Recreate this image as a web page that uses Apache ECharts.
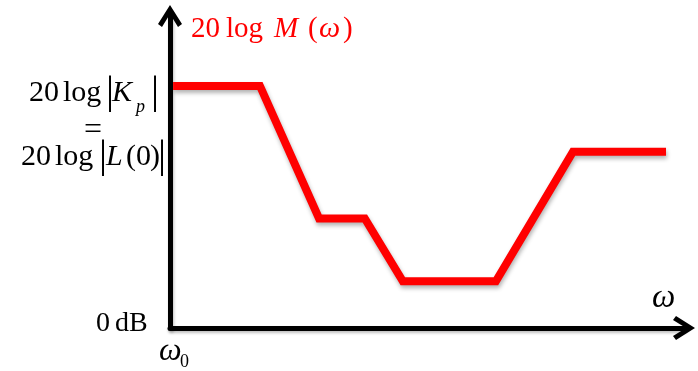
<!DOCTYPE html>
<html>
<head>
<meta charset="utf-8">
<script src="https://cdn.jsdelivr.net/npm/echarts@6/dist/echarts.min.js"></script>
<style>
  html, body { margin: 0; padding: 0; background: #fff; }
  #chart { width: 698px; height: 371px; }
</style>
</head>
<body>
<div id="chart"></div>
<script>
// Asymptotic Bode magnitude: corner frequencies (relative log-frequency units)
const omega = [0.6, 17.5, 29.0, 37.9, 45.3, 63.4, 78.4, 96.5];
// Asymptote levels (relative dB units, 0 dB at the frequency axis)
const gainDb = [77.6, 77.6, 35.1, 35.1, 15.0, 15.0, 56.5, 56.5];

const SERIF = '"Liberation Serif", "Times New Roman", serif';
const RED = '#ff0000';
const INK = '#000000';

// open chevron arrow head, tip at the top
const arrowHead = 'path://M12,0 L24,19 L20,22 L12,9 L4,22 L0,19 Z';

const axisShadow = {
  shadowColor: 'rgba(0,0,0,0.25)', shadowBlur: 3, shadowOffsetX: 1, shadowOffsetY: 2
};

// One run of typeset text, placed by its left edge and alphabetic baseline.
function glyphs(text, x, baseline, size, opts) {
  opts = opts || {};
  return {
    type: 'text',
    x: x,
    y: baseline - 0.34 * size,
    z: 10,
    style: {
      text: text,
      font: (opts.italic ? 'italic ' : '') + size + 'px ' + SERIF,
      fill: opts.color || INK,
      textAlign: opts.align || 'left',
      textVerticalAlign: 'middle'
    }
  };
}

// Tall absolute-value delimiter, centred on (x, cy).
function delimiter(x, cy) {
  return {
    type: 'text', x: x, y: cy - 4, z: 10,
    style: {
      text: '|', font: '40px ' + SERIF, fill: INK,
      textAlign: 'center', textVerticalAlign: 'middle'
    }
  };
}

const labels = [
  // 20 log M(ω)
  glyphs('20', 191, 39, 29, { color: RED }),
  glyphs('log', 226, 39, 29, { color: RED }),
  glyphs('M', 274, 39, 29, { color: RED, italic: true }),
  glyphs('(', 308, 39, 29, { color: RED }),
  glyphs('ω', 319, 39, 30, { color: RED, italic: true }),
  glyphs(')', 343, 39, 29, { color: RED }),

  // 20 log |K_p|
  glyphs('20', 29, 103, 30),
  glyphs('log', 63, 103, 30),
  delimiter(110, 96),
  glyphs('K', 112, 103, 30, { italic: true }),
  glyphs('p', 136, 113, 18, { italic: true }),
  delimiter(155, 96),

  // =
  glyphs('=', 93, 141, 32, { align: 'center' }),

  // 20 log |L(0)|
  glyphs('20', 21, 167, 30),
  glyphs('log', 55, 167, 30),
  delimiter(103, 160),
  glyphs('L', 106, 167, 30, { italic: true }),
  glyphs('(', 126, 167, 30),
  glyphs('0', 136, 167, 30),
  glyphs(')', 150, 167, 30),
  delimiter(162, 160),

  // 0 dB
  glyphs('0', 96, 333, 28),
  glyphs('dB', 115, 333, 28),

  // ω0
  glyphs('ω', 159, 362, 32, { italic: true }),
  glyphs('0', 180, 368, 18),

  // ω
  glyphs('ω', 652, 310, 33, { italic: true })
];

const chart = echarts.init(document.getElementById('chart'), null, { renderer: 'canvas' });

chart.setOption({
  animation: false,
  backgroundColor: '#ffffff',
  grid: { left: 170, right: 14, top: 16, bottom: 43, containLabel: false },
  xAxis: {
    type: 'value', min: 0, max: 100,
    splitLine: { show: false }, axisTick: { show: false }, axisLabel: { show: false },
    axisLine: {
      show: true, onZero: false,
      symbol: ['none', arrowHead], symbolSize: [24, 22],
      lineStyle: Object.assign({ color: INK, width: 5 }, axisShadow)
    }
  },
  yAxis: {
    type: 'value', min: 0, max: 100,
    splitLine: { show: false }, axisTick: { show: false }, axisLabel: { show: false },
    axisLine: {
      show: true, onZero: false,
      symbol: ['none', arrowHead], symbolSize: [24, 22],
      lineStyle: Object.assign({ color: INK, width: 5 }, axisShadow)
    }
  },
  series: [{
    type: 'line',
    data: omega.map((w, i) => [w, gainDb[i]]),
    symbol: 'none',
    lineStyle: {
      color: RED, width: 8, cap: 'butt', join: 'miter',
      shadowColor: 'rgba(0,0,0,0.3)', shadowBlur: 4, shadowOffsetX: 1, shadowOffsetY: 3
    },
    z: 3
  }],
  graphic: labels
});
</script>
</body>
</html>
